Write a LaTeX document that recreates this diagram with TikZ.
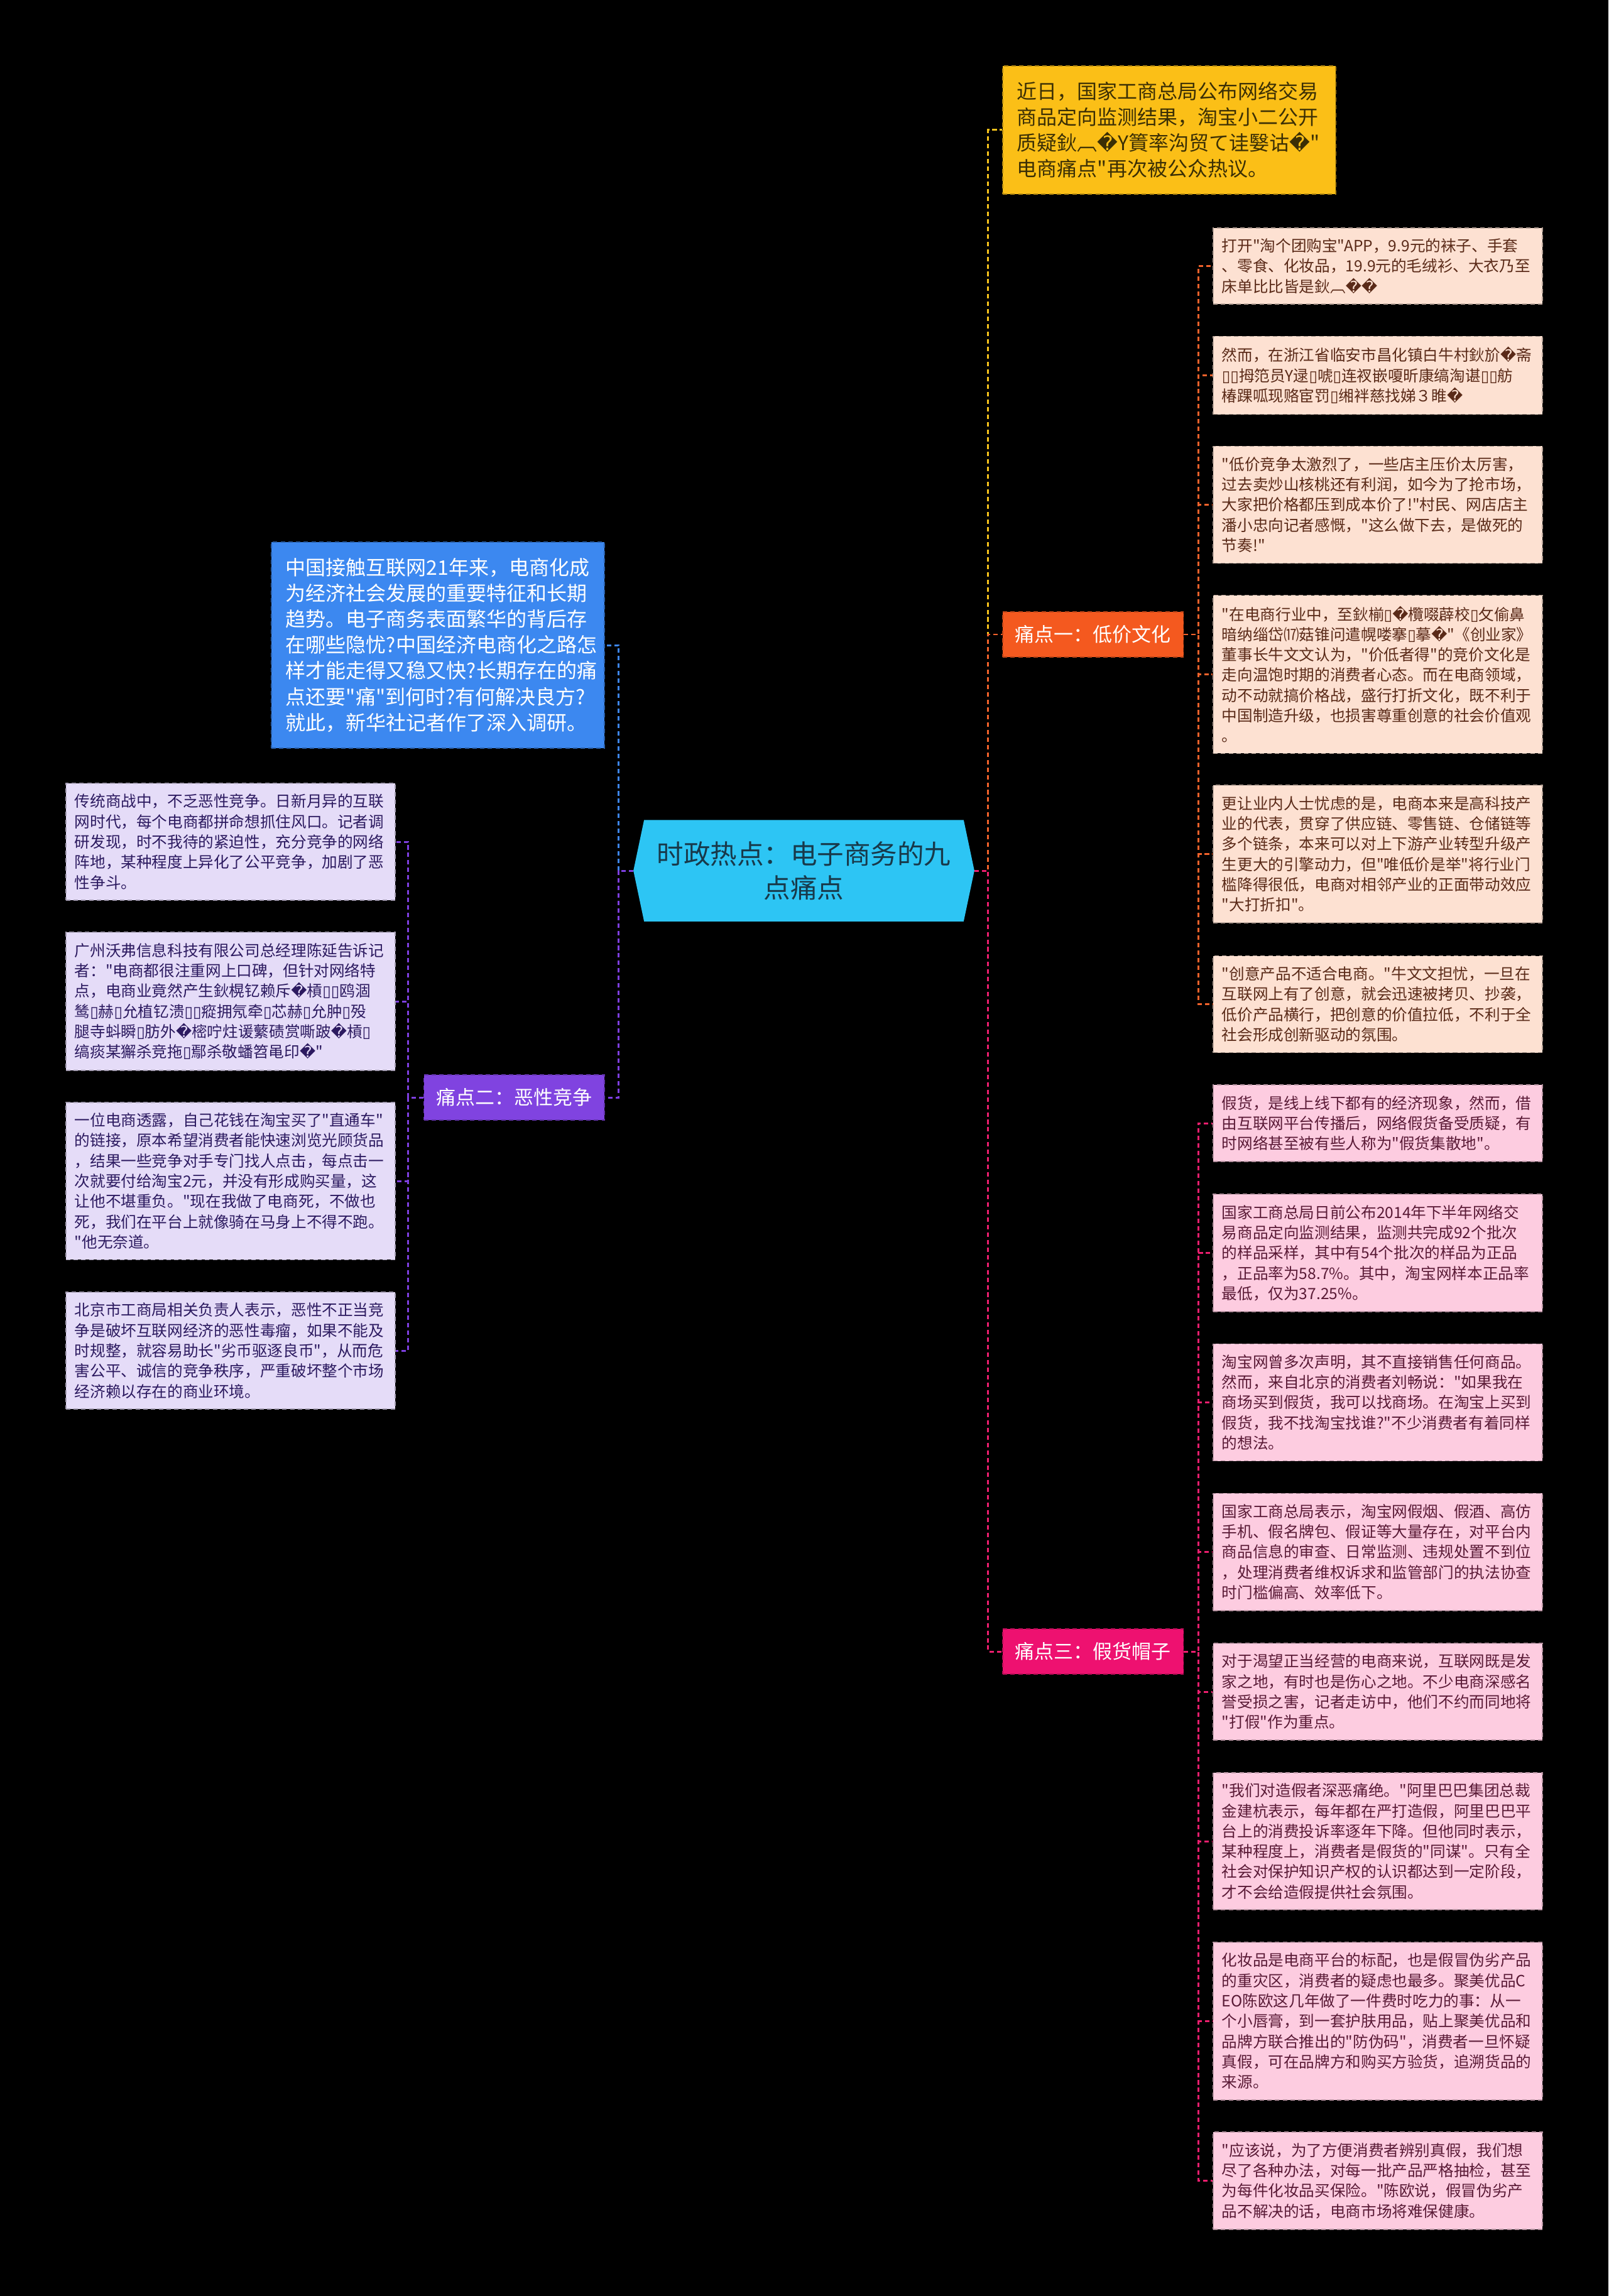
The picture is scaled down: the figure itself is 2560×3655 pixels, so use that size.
\documentclass[tikz,border=0pt]{standalone}
\usepackage{fontspec}
\setmainfont{Noto Sans CJK SC}[Ligatures=TeXOff]
\newfontfamily\djv{DejaVu Sans}
\usepackage{xcolor}
\usepackage{tikz}
\usetikzlibrary{positioning, calc, backgrounds}

\definecolor{hubcyan}{HTML}{2DC5F4}
\definecolor{hubink}{HTML}{18394A}
\definecolor{newsbg}{HTML}{FBBF17}
\definecolor{newsink}{HTML}{3B2F05}
\definecolor{introbg}{HTML}{3C88F0}
\definecolor{onebg}{HTML}{F4591F}
\definecolor{twobg}{HTML}{8043E0}
\definecolor{threebg}{HTML}{EE1170}
\definecolor{peachbg}{HTML}{FDE1D2}
\definecolor{peachink}{HTML}{5A2A18}
\definecolor{rosebg}{HTML}{FDCCE0}
\definecolor{roseink}{HTML}{5A1A36}
\definecolor{lilacbg}{HTML}{E5DCF8}
\definecolor{lilacink}{HTML}{2C1A60}
\definecolor{bluelink}{HTML}{3D86EF}
\definecolor{purplelink}{HTML}{7E3FE0}
\definecolor{yellowlink}{HTML}{F6C21B}
\definecolor{orangelink}{HTML}{F2622B}
\definecolor{pinklink}{HTML}{EC1E6E}

% mojibake glyphs the page prints
\newcommand{\qq}{{\djv\symbol{"FFFD}}}
\newcommand{\bx}{{\djv\symbol{"25AF}}}

\begin{document}
\begin{tikzpicture}[x=0.01cm, y=-0.01cm,
  link/.style={line width=0.85pt, dash pattern=on 2pt off 1.4pt},
  boxline/.style={dash pattern=on 2pt off 1.5pt, line width=0.5pt},
  leaf/.style 2 args={boxline, fill=#1, draw=#1!72!black, text=#2,
    text width=4.96cm, inner xsep=0.14cm, inner ysep=0.17cm, align=left,
    font=\fontsize{7pt}{9.19pt}\selectfont},
  peach/.style={leaf={peachbg}{peachink}, anchor=west},
  rose/.style={leaf={rosebg}{roseink}, anchor=west},
  lilac/.style={leaf={lilacbg}{lilacink}, anchor=east},
  big/.style={boxline, text width=4.84cm, inner xsep=0.23cm, inner ysep=0.25cm,
    align=left, font=\fontsize{9.1pt}{11.7pt}\selectfont},
  branch/.style={boxline, fill=#1, draw=#1!75!black, text=white,
    inner xsep=0.2cm, minimum height=0.72cm, font=\fontsize{8.8pt}{10pt}\selectfont}]

  % page
  \begin{scope}[on background layer]
    \fill[black] (0,0) rectangle (2560,3655);
  \end{scope}

  % central topic
  \node[text=hubink, minimum width=5.41cm, minimum height=1.6cm, text width=4.8cm,
        align=center, font=\fontsize{12.1pt}{15.25pt}\selectfont]
    (hub) at (1279.5,1386) {时政热点：电子商务的九\\点痛点};
  \begin{scope}[on background layer]
    \fill[hubcyan] (hub.west) -- ([xshift=0.17cm]hub.north west)
      -- ([xshift=-0.17cm]hub.north east) -- (hub.east)
      -- ([xshift=-0.17cm]hub.south east) -- ([xshift=0.17cm]hub.south west) -- cycle;
  \end{scope}

  % top note and intro
  \node[big, fill=newsbg, draw=newsbg!70!black, text=newsink, anchor=west]
    (news) at (1595,207) {近日，国家工商总局公布网络交易\\商品定向监测结果，淘宝小二公开\\质疑鈥︹\qq Y篢率沟贸て诖嫛诂\qq"\\电商痛点"再次被公众热议。};
  \node[big, fill=introbg, draw=introbg!70!black, text=white, anchor=east]
    (intro) at (963,1027) {中国接触互联网21年来，电商化成\\为经济社会发展的重要特征和长期\\趋势。电子商务表面繁华的背后存\\在哪些隐忧?中国经济电商化之路怎\\样才能走得又稳又快?长期存在的痛\\点还要"痛"到何时?有何解决良方?\\就此，新华社记者作了深入调研。};

  % three branches
  \node[branch=onebg, anchor=west] (p1) at (1595,1010) {痛点一：低价文化};
  \node[branch=twobg, anchor=east] (p2) at (963,1747) {痛点二：恶性竞争};
  \node[branch=threebg, anchor=west] (p3) at (1595,2629) {痛点三：假货帽子};

  % branch one: low prices
  \node[peach] (r1) at (1930,423.5) {打开"淘个团购宝"APP，9.9元的袜子、手套\\、零食、化妆品，19.9元的毛绒衫、大衣乃至\\床单比比皆是鈥︹\qq\qq};
  \node[peach] (r2) at (1930,597.5) {然而，在浙江省临安市昌化镇白牛村鈥斺\qq 斋\\\bx\bx 拇笵员Y逯\bx 唬\bx 连衩嵌嗄昕康缟淘谌\bx\bx 舫\\椿踝呱现赂宦罚\bx 缃袢慈找娣３睢\qq};
  \node[peach] (r3) at (1930,803.5) {"低价竞争太激烈了，一些店主压价太厉害，\\过去卖炒山核桃还有利润，如今为了抢市场，\\大家把价格都压到成本价了!"村民、网店店主\\潘小忠向记者感慨，"这么做下去，是做死的\\节奏!"};
  \node[peach] (r4) at (1930,1073.5) {"在电商行业中，至鈥椾\bx\qq 欖啜薜校\bx 攵偷鼻\\暗纳缁岱⒄菇锥问遣幌喽搴\bx 摹\qq"《创业家》\\董事长牛文文认为，"价低者得"的竞价文化是\\走向温饱时期的消费者心态。而在电商领域，\\动不动就搞价格战，盛行打折文化，既不利于\\中国制造升级，也损害尊重创意的社会价值观\\。};
  \node[peach] (r5) at (1930,1359.5) {更让业内人士忧虑的是，电商本来是高科技产\\业的代表，贯穿了供应链、零售链、仓储链等\\多个链条，本来可以对上下游产业转型升级产\\生更大的引擎动力，但"唯低价是举"将行业门\\槛降得很低，电商对相邻产业的正面带动效应\\"大打折扣"。};
  \node[peach] (r6) at (1930,1598.5) {"创意产品不适合电商。"牛文文担忧，一旦在\\互联网上有了创意，就会迅速被拷贝、抄袭，\\低价产品横行，把创意的价值拉低，不利于全\\社会形成创新驱动的氛围。};

  % branch three: fakes
  \node[rose] (r7) at (1930,1788) {假货，是线上线下都有的经济现象，然而，借\\由互联网平台传播后，网络假货备受质疑，有\\时网络甚至被有些人称为"假货集散地"。};
  \node[rose] (r8) at (1930,1994.5) {国家工商总局日前公布2014年下半年网络交\\易商品定向监测结果，监测共完成92个批次\\的样品采样，其中有54个批次的样品为正品\\，正品率为58.7\%。其中，淘宝网样本正品率\\最低，仅为37.25\%。};
  \node[rose] (r9) at (1930,2232.5) {淘宝网曾多次声明，其不直接销售任何商品。\\然而，来自北京的消费者刘畅说："如果我在\\商场买到假货，我可以找商场。在淘宝上买到\\假货，我不找淘宝找谁?"不少消费者有着同样\\的想法。};
  \node[rose] (r10) at (1930,2470.5) {国家工商总局表示，淘宝网假烟、假酒、高仿\\手机、假名牌包、假证等大量存在，对平台内\\商品信息的审查、日常监测、违规处置不到位\\，处理消费者维权诉求和监管部门的执法协查\\时门槛偏高、效率低下。};
  \node[rose] (r11) at (1930,2693) {对于渴望正当经营的电商来说，互联网既是发\\家之地，有时也是伤心之地。不少电商深感名\\誉受损之害，记者走访中，他们不约而同地将\\"打假"作为重点。};
  \node[rose] (r12) at (1930,2931) {"我们对造假者深恶痛绝。"阿里巴巴集团总裁\\金建杭表示，每年都在严打造假，阿里巴巴平\\台上的消费投诉率逐年下降。但他同时表示，\\某种程度上，消费者是假货的"同谋"。只有全\\社会对保护知识产权的认识都达到一定阶段，\\才不会给造假提供社会氛围。};
  \node[rose] (r13) at (1930,3217.5) {化妆品是电商平台的标配，也是假冒伪劣产品\\的重灾区，消费者的疑虑也最多。聚美优品C\\EO陈欧这几年做了一件费时吃力的事：从一\\个小唇膏，到一套护肤用品，贴上聚美优品和\\品牌方联合推出的"防伪码"，消费者一旦怀疑\\真假，可在品牌方和购买方验货，追溯货品的\\来源。};
  \node[rose] (r14) at (1930,3471.5) {"应该说，为了方便消费者辨别真假，我们想\\尽了各种办法，对每一批产品严格抽检，甚至\\为每件化妆品买保险。"陈欧说，假冒伪劣产\\品不解决的话，电商市场将难保健康。};

  % branch two: vicious competition
  \node[lilac] (l1) at (630,1340) {传统商战中，不乏恶性竞争。日新月异的互联\\网时代，每个电商都拼命想抓住风口。记者调\\研发现，时不我待的紧迫性，充分竞争的网络\\阵地，某种程度上异化了公平竞争，加剧了恶\\性争斗。};
  \node[lilac] (l2) at (630,1594) {广州沃弗信息科技有限公司总经理陈延告诉记\\者："电商都很注重网上口碑，但针对网络特\\点，电商业竟然产生鈥榥钇赖斥\qq 槓\bx\bx 鸥涸\\鸶\bx 赫\bx 允植钇溃\bx\bx 瘲拥氖牵\bx 芯赫\bx 允肿\bx 殁\\腿寺蚪瞬\bx 肪外\qq 樒咛炷谖蘩碛赏嘶跛\qq 槓\bx\\缟痰某獬杀竞拖\bx 鄢杀敬蟠笤黾印\qq"};
  \node[lilac] (l3) at (630,1880) {一位电商透露，自己花钱在淘宝买了"直通车"\\的链接，原本希望消费者能快速浏览光顾货品\\，结果一些竞争对手专门找人点击，每点击一\\次就要付给淘宝2元，并没有形成购买量，这\\让他不堪重负。"现在我做了电商死，不做也\\死，我们在平台上就像骑在马身上不得不跑。\\"他无奈道。};
  \node[lilac] (l4) at (630,2150) {北京市工商局相关负责人表示，恶性不正当竞\\争是破坏互联网经济的恶性毒瘤，如果不能及\\时规整，就容易助长"劣币驱逐良币"，从而危\\害公平、诚信的竞争秩序，严重破坏整个市场\\经济赖以存在的商业环境。};

  % connectors, left side
  \draw[link, bluelink] (hub.west) -- ++(-24,0) |- (intro.east);
  \draw[link, purplelink] (hub.west) -- ++(-24,0) |- (p2.east);
  \foreach \n in {l1,l2,l3,l4}
    \draw[link, purplelink] (p2.west) -- ++(-24,0) |- (\n.east);

  % connectors, right side
  \draw[link, yellowlink] (hub.east) -- ++(22,0) |- (news.west);
  \draw[link, orangelink] (hub.east) -- ++(22,0) |- (p1.west);
  \draw[link, pinklink] (hub.east) -- ++(22,0) |- (p3.west);
  \foreach \n in {r1,r2,r3,r4,r5,r6}
    \draw[link, orangelink] (p1.east) -- ++(23,0) |- (\n.west);
  \foreach \n in {r7,r8,r9,r10,r11,r12,r13,r14}
    \draw[link, pinklink] (p3.east) -- ++(23,0) |- (\n.west);
\end{tikzpicture}
\end{document}
